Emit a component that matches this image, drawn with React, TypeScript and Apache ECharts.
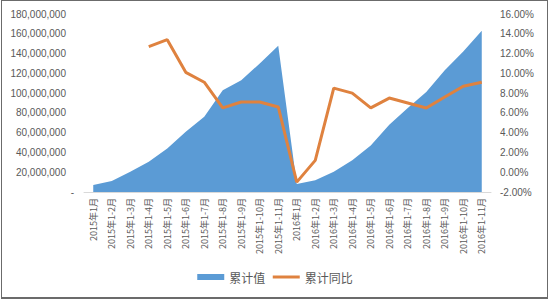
import React, { useEffect, useRef } from "react";
import * as echarts from "echarts";

// Reporting periods (cumulative months)
const categories: string[] = [
  "2015年1月", "2015年1-2月", "2015年1-3月", "2015年1-4月", "2015年1-5月", "2015年1-6月",
  "2015年1-7月", "2015年1-8月", "2015年1-9月", "2015年1-10月", "2015年1-11月",
  "2016年1月", "2016年1-2月", "2016年1-3月", "2016年1-4月", "2016年1-5月", "2016年1-6月",
  "2016年1-7月", "2016年1-8月", "2016年1-9月", "2016年1-10月", "2016年1-11月",
];

// 累计值 (cumulative value)
const cumulativeValues: number[] = [
  7000000, 11000000, 20500000, 30600000, 44000000, 61000000,
  76000000, 103000000, 113000000, 130000000, 148000000,
  8000000, 12000000, 20500000, 32000000, 47000000, 68000000,
  85000000, 101000000, 123000000, 142000000, 163000000,
];

// 累计同比 (year-on-year growth, %)
const yoyGrowth: (number | null)[] = [
  null, null, null, 12.7, 13.4, 10.1,
  9.1, 6.5, 7.1, 7.1, 6.6,
  -1.0, 1.2, 8.5, 8.0, 6.5, 7.5,
  7.0, 6.5, 7.6, 8.7, 9.1,
];

const TEXT = "#595959";
const FONT = "'Liberation Sans', Arial, 'Noto Sans CJK SC', sans-serif";
const BLUE = "#5b9bd5";
const ORANGE = "#df823f";

function formatThousands(v: number): string {
  return Math.round(v).toString().replace(/\B(?=(\d{3})+(?!\d))/g, ",");
}

export default function App() {
  const ref = useRef<HTMLDivElement>(null);

  useEffect(() => {
    if (!ref.current) return;
    const chart = echarts.init(ref.current, undefined, { renderer: "svg" });
    chart.setOption({
      animation: false,
      backgroundColor: "#ffffff",
      textStyle: { fontFamily: FONT },
      grid: { left: 84, right: 59, top: 14, bottom: 108, containLabel: false },
      legend: {
        bottom: 12,
        left: "center",
        itemWidth: 27,
        itemHeight: 6,
        itemGap: 6,
        textStyle: { color: TEXT, fontSize: 12, fontFamily: "'Noto Sans CJK SC', sans-serif" },
        data: [
          { name: "累计值", icon: "rect" },
          // plain line key, no marker dot
          { name: "累计同比", itemStyle: { opacity: 0 }, lineStyle: { width: 3 } },
        ],
      },
      xAxis: {
        type: "category",
        data: categories,
        boundaryGap: true,
        axisLine: { show: true, lineStyle: { color: "#d9d9d9", width: 1 } },
        axisTick: { show: false },
        axisLabel: {
          rotate: 90,
          interval: 0,
          margin: 6,
          color: TEXT,
          fontSize: 9,
          fontFamily: "'Noto Sans CJK SC', sans-serif",
        },
      },
      yAxis: [
        {
          type: "value",
          min: 0,
          max: 180000000,
          interval: 20000000,
          splitLine: { show: false },
          axisLine: { show: false },
          axisTick: { show: false },
          axisLabel: {
            color: TEXT,
            fontSize: 10,
            margin: 10,
            formatter: (v: number) => (v === 0 ? "-" : formatThousands(v) + "{g|}"),
            rich: { g: { width: 8 } },
          },
        },
        {
          type: "value",
          min: -2,
          max: 16,
          interval: 2,
          splitLine: { show: false },
          axisLine: { show: false },
          axisTick: { show: false },
          axisLabel: {
            color: TEXT,
            fontSize: 10,
            margin: 9,
            formatter: (v: number) => v.toFixed(2) + "%",
          },
        },
      ],
      series: [
        {
          name: "累计值",
          type: "line",
          yAxisIndex: 0,
          data: cumulativeValues,
          symbol: "none",
          lineStyle: { width: 0 },
          itemStyle: { color: BLUE },
          areaStyle: { color: BLUE, opacity: 1 },
          z: 1,
        },
        {
          name: "累计同比",
          type: "line",
          yAxisIndex: 1,
          data: yoyGrowth,
          symbol: "none",
          connectNulls: false,
          lineStyle: { width: 3, color: ORANGE },
          itemStyle: { color: ORANGE },
          z: 2,
        },
      ],
    });
    return () => chart.dispose();
  }, []);

  return (
    <div style={{ position: "fixed", left: 0, top: 0, width: 550, height: 300, background: "#fff" }}>
      <div ref={ref} style={{ position: "absolute", left: 0, top: 0, width: 550, height: 300 }} />
      <div
        style={{
          position: "absolute",
          left: 1,
          top: 0,
          width: 545,
          height: 296,
          border: "1px solid #6b6b6b",
          borderBottomWidth: 2,
          pointerEvents: "none",
        }}
      />
    </div>
  );
}
